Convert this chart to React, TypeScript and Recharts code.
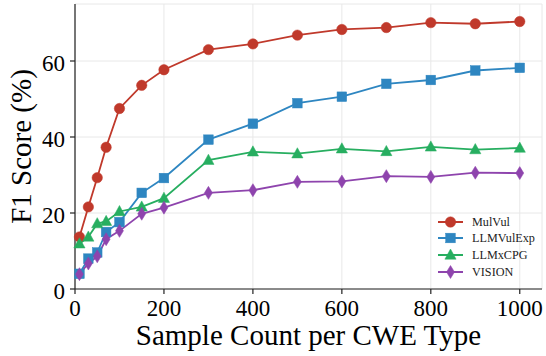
import React from 'react';
import { LineChart, Line, XAxis, YAxis, CartesianGrid, Legend } from 'recharts';

const sampleCounts = [10, 30, 50, 70, 100, 150, 200, 300, 400, 500, 600, 700, 800, 900, 1000];
const mulVul = [13.7, 21.6, 29.3, 37.3, 47.5, 53.6, 57.7, 63.0, 64.5, 66.8, 68.3, 68.8, 70.1, 69.8, 70.4];
const llmVulExp = [4.0, 8.0, 9.6, 15.0, 17.6, 25.3, 29.2, 39.3, 43.5, 48.9, 50.6, 54.0, 55.0, 57.5, 58.2];
const llmxCPG = [11.9, 13.7, 17.2, 17.8, 20.4, 21.6, 23.9, 33.9, 36.1, 35.6, 36.9, 36.2, 37.4, 36.7, 37.1];
const vision = [3.9, 6.7, 8.6, 13.1, 15.3, 19.8, 21.4, 25.3, 26.0, 28.2, 28.3, 29.7, 29.5, 30.6, 30.5];

const xTicks = [0, 200, 400, 600, 800, 1000];
const yTicks = [0, 20, 40, 60];

const seriesConfig = [
  { key: 'MulVul', values: mulVul, color: '#c0392b', shape: 'circle' },
  { key: 'LLMVulExp', values: llmVulExp, color: '#2e86c1', shape: 'square' },
  { key: 'LLMxCPG', values: llmxCPG, color: '#27ae60', shape: 'triangle' },
  { key: 'VISION', values: vision, color: '#8e44ad', shape: 'diamond' },
];

const data = sampleCounts.map((x, i) => {
  const row: any = { x };
  seriesConfig.forEach((s) => {
    row[s.key] = s.values[i];
  });
  return row;
});

const FONT = "'Liberation Serif', 'Times New Roman', serif";

function Marker({ cx, cy, shape, color }: any) {
  if (cx == null || cy == null) return null;
  if (shape === 'circle') return <circle cx={cx} cy={cy} r={5.2} fill={color} stroke={color} strokeWidth={0.5} />;
  if (shape === 'square')
    return <rect x={cx - 4.8} y={cy - 4.8} width={9.6} height={9.6} fill={color} stroke={color} strokeWidth={0.5} />;
  if (shape === 'triangle')
    return (
      <polygon
        points={`${cx},${cy - 6} ${cx - 5.6},${cy + 4.2} ${cx + 5.6},${cy + 4.2}`}
        fill={color}
        stroke={color}
        strokeWidth={0.5}
      />
    );
  return (
    <polygon
      points={`${cx},${cy - 6.5} ${cx + 4},${cy} ${cx},${cy + 6.5} ${cx - 4},${cy}`}
      fill={color}
      stroke={color}
      strokeWidth={0.5}
    />
  );
}

function XTick({ x, y, payload }: any) {
  return (
    <text x={x} y={y} dy={20} textAnchor="middle" style={{ fill: '#000', fontSize: 23, fontFamily: FONT }}>
      {payload.value}
    </text>
  );
}

function YTick({ x, y, payload }: any) {
  return (
    <text x={x} y={y} dx={-3} dy={10} textAnchor="end" style={{ fill: '#000', fontSize: 23, fontFamily: FONT }}>
      {payload.value}
    </text>
  );
}

function LegendContent() {
  return (
    <div style={{ fontFamily: FONT, fontSize: 12.2, color: '#222' }}>
      {seriesConfig.map((s) => (
        <div key={s.key} style={{ display: 'flex', alignItems: 'center', height: 16.6 }}>
          <svg width={28} height={16} style={{ display: 'block' }}>
            <line x1={1} y1={8} x2={26} y2={8} stroke={s.color} strokeWidth={2} />
            <Marker cx={13.5} cy={8} shape={s.shape} color={s.color} />
          </svg>
          <span style={{ marginLeft: 7, lineHeight: '16px' }}>{s.key}</span>
        </div>
      ))}
    </div>
  );
}

export default function App() {
  return (
    <div style={{ position: 'absolute', left: 0, top: 0, width: 546, height: 356, background: '#fff' }}>
      <LineChart width={546} height={356} data={data} margin={{ top: 4, right: 4, left: 0, bottom: 0 }}>
        <CartesianGrid stroke="#e8e8e8" strokeWidth={1} />
        <XAxis
          dataKey="x"
          type="number"
          domain={[0, 1050]}
          ticks={xTicks}
          height={67}
          tickSize={5}
          tickMargin={2}
          axisLine={{ stroke: '#222', strokeWidth: 1.2 }}
          tickLine={{ stroke: '#222', strokeWidth: 1.2 }}
          tick={<XTick />}
          label={{
            content: (props: any) => {
              const vb = props.viewBox || {};
              const cx = (vb.x || 0) + (vb.width || 0) / 2;
              return (
                <text x={cx} y={345} textAnchor="middle" style={{ fill: '#000', fontSize: 29, fontFamily: FONT }}>
                  Sample Count per CWE Type
                </text>
              );
            },
          }}
        />
        <XAxis
          xAxisId="top"
          orientation="top"
          type="number"
          domain={[0, 1050]}
          height={0}
          tick={false}
          tickLine={false}
          axisLine={{ stroke: '#222', strokeWidth: 1.2 }}
        />
        <YAxis
          type="number"
          domain={[0, 75]}
          ticks={yTicks}
          width={75}
          tickSize={5}
          tickMargin={2}
          axisLine={{ stroke: '#222', strokeWidth: 1.2 }}
          tickLine={{ stroke: '#222', strokeWidth: 1.2 }}
          tick={<YTick />}
          label={{
            content: (props: any) => {
              const vb = props.viewBox || {};
              const cy = (vb.y || 0) + (vb.height || 0) / 2;
              return (
                <text
                  x={31}
                  y={cy}
                  transform={`rotate(-90, 31, ${cy})`}
                  textAnchor="middle"
                  style={{ fill: '#000', fontSize: 29, fontFamily: FONT }}
                >
                  F1 Score (%)
                </text>
              );
            },
          }}
        />
        <YAxis
          yAxisId="right"
          orientation="right"
          type="number"
          domain={[0, 75]}
          width={0}
          tick={false}
          tickLine={false}
          axisLine={{ stroke: '#222', strokeWidth: 1.2 }}
        />
        {seriesConfig.map((s) => (
          <Line
            key={s.key}
            dataKey={s.key}
            name={s.key}
            stroke={s.color}
            strokeWidth={1.8}
            isAnimationActive={false}
            dot={(p: any) => <Marker key={`${s.key}-${p.index}`} cx={p.cx} cy={p.cy} shape={s.shape} color={s.color} />}
            activeDot={false}
          />
        ))}
        <Legend
          layout="vertical"
          align="center"
          verticalAlign="middle"
          content={<LegendContent />}
          wrapperStyle={{ position: 'absolute', left: 437, top: 213.5, width: 105 }}
        />
      </LineChart>
    </div>
  );
}
